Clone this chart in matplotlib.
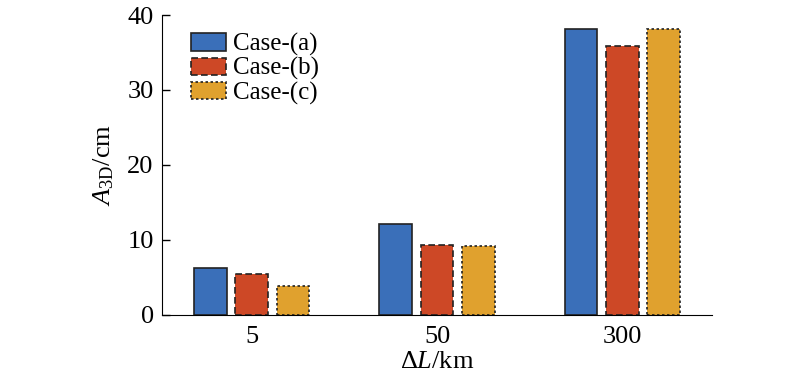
import numpy as np
import matplotlib
matplotlib.use("Agg")
import matplotlib.pyplot as plt

plt.rcParams['font.family'] = ['Liberation Serif', 'DejaVu Serif']
plt.rcParams['mathtext.fontset'] = 'custom'
plt.rcParams['mathtext.rm'] = 'Liberation Serif'
plt.rcParams['mathtext.it'] = 'Liberation Serif:italic'

categories = ['5', '50', '300']
case_a = [6.3, 12.1, 38.1]
case_b = [5.4, 9.3, 35.9]
case_c = [3.9, 9.2, 38.1]

series = [('Case-(a)', case_a, '#3A6FB9', '-'),
          ('Case-(b)', case_b, '#CD4826', (0, (4, 2))),
          ('Case-(c)', case_c, '#E0A12E', (0, (1.5, 1.5)))]

fig = plt.figure(figsize=(8, 3.85), dpi=100)
ax = fig.add_axes([0.2025, 0.182, 0.6875, 0.779])

x = np.arange(len(categories))
w = 0.178
step = 0.222
for i, (name, vals, col, ls) in enumerate(series):
    ax.bar(x + (i - 1) * step, vals, width=w, color=col, edgecolor='#222222',
           linewidth=1.2, linestyle=ls, label=name, zorder=2)

ax.set_xlim(-0.486, 2.486)
ax.set_ylim(0, 40)
ax.set_yticks([0, 10, 20, 30, 40])
ax.set_xticks(x)
ax.set_xticklabels(categories)
ax.spines['top'].set_visible(False)
ax.spines['right'].set_visible(False)
ax.tick_params(direction='in', length=6, labelsize=19, width=1)
ax.tick_params(axis='x', pad=8)
ax.tick_params(axis='y', pad=6)
ax.set_ylabel(r'$A_{\mathrm{3D}}$/cm', fontsize=19, labelpad=8)
ax.set_xlabel(r'$\Delta L$/km', fontsize=19, labelpad=2)

ax.legend(loc='upper left', bbox_to_anchor=(0.025, 0.99), frameon=False,
          fontsize=18, handlelength=1.4, handleheight=0.7, handletextpad=0.3,
          labelspacing=0.05, borderaxespad=0.2)

fig.savefig('out.png', dpi=100)
